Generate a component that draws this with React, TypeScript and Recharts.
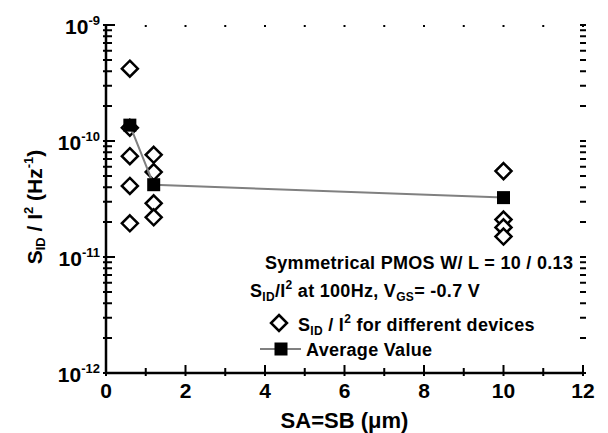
import { ComposedChart, Scatter, XAxis, YAxis, Legend, ReferenceLine } from 'recharts';

// noise of individual devices, grouped by SA=SB
const deviceSpacing = [0.6, 0.6, 0.6, 0.6, 0.6, 1.2, 1.2, 1.2, 1.2, 10, 10, 10, 10];
const deviceNoise = [
  4.2e-10, 1.3e-10, 7.4e-11, 4.1e-11, 1.95e-11,
  7.6e-11, 5.4e-11, 2.9e-11, 2.2e-11,
  5.5e-11, 2.1e-11, 1.8e-11, 1.5e-11,
];

// average per spacing
const avgSpacing = [0.6, 1.2, 10];
const avgNoise = [1.37e-10, 4.2e-11, 3.25e-11];

const xMajorTicks = [0, 2, 4, 6, 8, 10, 12];
const xMinorTicks = [1, 3, 5, 7, 9, 11];
const yDecades = [-12, -11, -10, -9];
const yMantissas = [1, 2, 3, 4, 5, 6, 7, 8, 9];

const FONT = "'Liberation Sans', Arial, Helvetica, sans-serif";

const WIDTH = 608;
const HEIGHT = 433;
const MARGIN = { top: 25, right: 25, bottom: 0, left: 0 };
const Y_AXIS_W = 106;
const X_AXIS_H = 60;
const PLOT_W = WIDTH - MARGIN.left - MARGIN.right - Y_AXIS_W;
const PLOT_H = HEIGHT - MARGIN.top - MARGIN.bottom - X_AXIS_H;

const deviceData = deviceSpacing.map((x, i) => ({ x, y: deviceNoise[i] }));
const avgData = avgSpacing.map((x, i) => ({ x, y: avgNoise[i] }));

const xTicks = [...xMajorTicks, ...xMinorTicks].sort((a, b) => a - b);
const yTicks = yDecades.flatMap((d) =>
  d === -9 ? [Math.pow(10, d)] : yMantissas.map((m) => m * Math.pow(10, d))
);

const isDecade = (v: number) => {
  const l = Math.log10(v);
  return Math.abs(l - Math.round(l)) < 1e-6;
};

function Diamond(props: any) {
  const { cx, cy } = props;
  const r = 8;
  return (
    <path
      d={`M${cx},${cy - r} L${cx + r},${cy} L${cx},${cy + r} L${cx - r},${cy} Z`}
      fill="#fff"
      stroke="#000"
      strokeWidth={2.5}
    />
  );
}

function Square(props: any) {
  const { cx, cy } = props;
  return <rect x={cx - 6.5} y={cy - 6.5} width={13} height={13} fill="#000" />;
}

// tick marks: short strokes across the frame at both ends of a reference line
const xTickMark = (len: number) => (props: any) => {
  const { x1, y1, y2 } = props;
  const top = Math.min(y1, y2);
  const bottom = top + PLOT_H;
  return (
    <path
      d={`M${x1},${bottom + 3} V${bottom - len} M${x1},${top} V${top + 2}`}
      stroke="#000"
      strokeWidth={2}
      fill="none"
    />
  );
};

const yTickMark = (len: number) => (props: any) => {
  const { y1, x1, x2 } = props;
  const right = Math.max(x1, x2);
  const left = right - PLOT_W;
  return (
    <path
      d={`M${left - 3},${y1} H${left + len} M${right - 3},${y1} H${right + 3}`}
      stroke="#000"
      strokeWidth={2}
      fill="none"
    />
  );
};

const renderLeftTick = (props: any) => {
  const { x, y, payload } = props;
  const v = payload.value;
  if (!isDecade(v)) return <g />;
  const exp = Math.round(Math.log10(v));
  return (
    <text x={x - 6} y={y + 9} textAnchor="end" fontFamily={FONT} fontWeight="bold" fill="#000">
      <tspan fontSize={21}>10</tspan>
      <tspan fontSize={13} dy={-9}>{exp}</tspan>
    </text>
  );
};

const renderBottomTick = (props: any) => {
  const { x, y, payload } = props;
  if (!xMajorTicks.includes(payload.value)) return <g />;
  return (
    <text x={x} y={y + 25} textAnchor="middle" fontFamily={FONT} fontWeight="bold" fontSize={21} fill="#000">
      {payload.value}
    </text>
  );
};

function XTitle(props: any) {
  const { viewBox } = props;
  return (
    <text
      x={viewBox.x + viewBox.width / 2}
      y={viewBox.y + 55}
      textAnchor="middle"
      fontFamily={FONT}
      fontWeight="bold"
      fontSize={22}
      fill="#000"
    >
      SA=SB (μm)
    </text>
  );
}

function YTitle(props: any) {
  const { viewBox } = props;
  const cx = 42;
  const cy = viewBox.y + viewBox.height / 2 + 8;
  return (
    <text
      x={cx}
      y={cy}
      transform={`rotate(-90, ${cx}, ${cy})`}
      textAnchor="middle"
      fontFamily={FONT}
      fontWeight="bold"
      fontSize={21}
      fill="#000"
    >
      <tspan>S</tspan>
      <tspan fontSize={13} dy={3}>ID</tspan>
      <tspan dy={-3}> / I</tspan>
      <tspan fontSize={13} dy={-9}>2</tspan>
      <tspan dy={9}> (Hz</tspan>
      <tspan fontSize={13} dy={-9}>-1</tspan>
      <tspan dy={9}>)</tspan>
    </text>
  );
}

// annotation block and legend, drawn as an overlay at chart coordinates
function NoteLegend() {
  const t = {
    fontFamily: FONT,
    fontWeight: 'bold' as const,
    fontSize: 18,
    fill: '#000',
    letterSpacing: 0.3,
  };
  return (
    <svg
      width={WIDTH}
      height={HEIGHT}
      style={{ position: 'absolute', left: 0, top: 0, overflow: 'visible', pointerEvents: 'none' }}
    >
      <text x={265} y={269} {...t}>Symmetrical PMOS W/ L = 10 / 0.13</text>
      <text x={250} y={297} {...t}>
        <tspan>S</tspan>
        <tspan fontSize={12} dy={4}>ID</tspan>
        <tspan dy={-4}>/I</tspan>
        <tspan fontSize={12} dy={-8}>2</tspan>
        <tspan dy={8}> at 100Hz, V</tspan>
        <tspan fontSize={12} dy={4}>GS</tspan>
        <tspan dy={-4}>= -0.7 V</tspan>
      </text>
      <Diamond cx={279} cy={323} />
      <text x={298} y={331} {...t}>
        <tspan>S</tspan>
        <tspan fontSize={12} dy={4}>ID</tspan>
        <tspan dy={-4}> / I</tspan>
        <tspan fontSize={12} dy={-8}>2</tspan>
        <tspan dy={8}> for different devices</tspan>
      </text>
      <line x1={260} x2={301} y1={349} y2={349} stroke="#808080" strokeWidth={2} />
      <Square cx={281} cy={349} />
      <text x={306} y={356} {...t}>Average Value</text>
    </svg>
  );
}

export default function App() {
  return (
    <div style={{ position: 'absolute', left: 0, top: 0, background: '#fff' }}>
      <ComposedChart width={WIDTH} height={HEIGHT} margin={MARGIN}>
        <XAxis
          xAxisId="bottom"
          dataKey="x"
          type="number"
          domain={[0, 12]}
          ticks={xTicks}
          interval={0}
          height={X_AXIS_H}
          tickSize={0}
          tickMargin={0}
          axisLine={{ stroke: '#000', strokeWidth: 2.5 }}
          tickLine={false}
          tick={renderBottomTick}
          label={{ content: XTitle }}
        />
        <XAxis
          xAxisId="top"
          orientation="top"
          type="number"
          domain={[0, 12]}
          height={0}
          tick={false}
          tickLine={false}
          axisLine={{ stroke: '#000', strokeWidth: 2.5 }}
        />
        <YAxis
          yAxisId="left"
          dataKey="y"
          type="number"
          scale="log"
          domain={[1e-12, 1e-9]}
          allowDataOverflow
          ticks={yTicks}
          interval={0}
          width={Y_AXIS_W}
          tickSize={0}
          tickMargin={0}
          axisLine={{ stroke: '#000', strokeWidth: 2.5 }}
          tickLine={false}
          tick={renderLeftTick}
          label={{ content: YTitle }}
        />
        <YAxis
          yAxisId="right"
          orientation="right"
          type="number"
          scale="log"
          domain={[1e-12, 1e-9]}
          width={0}
          tick={false}
          tickLine={false}
          axisLine={{ stroke: '#000', strokeWidth: 2.5 }}
        />
        {xTicks.map((v) => (
          <ReferenceLine
            key={`xt${v}`}
            xAxisId="bottom"
            yAxisId="left"
            x={v}
            stroke="none"
            shape={xTickMark(xMajorTicks.includes(v) ? 8 : 5)}
          />
        ))}
        {yTicks.map((v) => (
          <ReferenceLine
            key={`yt${v}`}
            xAxisId="bottom"
            yAxisId="left"
            y={v}
            stroke="none"
            shape={yTickMark(isDecade(v) ? 9 : 6)}
          />
        ))}
        <Scatter
          xAxisId="bottom"
          yAxisId="left"
          data={deviceData}
          shape={<Diamond />}
          isAnimationActive={false}
        />
        <Scatter
          xAxisId="bottom"
          yAxisId="left"
          data={avgData}
          line={{ stroke: '#808080', strokeWidth: 2 }}
          lineType="joint"
          shape={<Square />}
          isAnimationActive={false}
        />
        <Legend
          content={() => <NoteLegend />}
          wrapperStyle={{ position: 'absolute', left: 0, top: 0, width: 0, height: 0 }}
        />
      </ComposedChart>
    </div>
  );
}
